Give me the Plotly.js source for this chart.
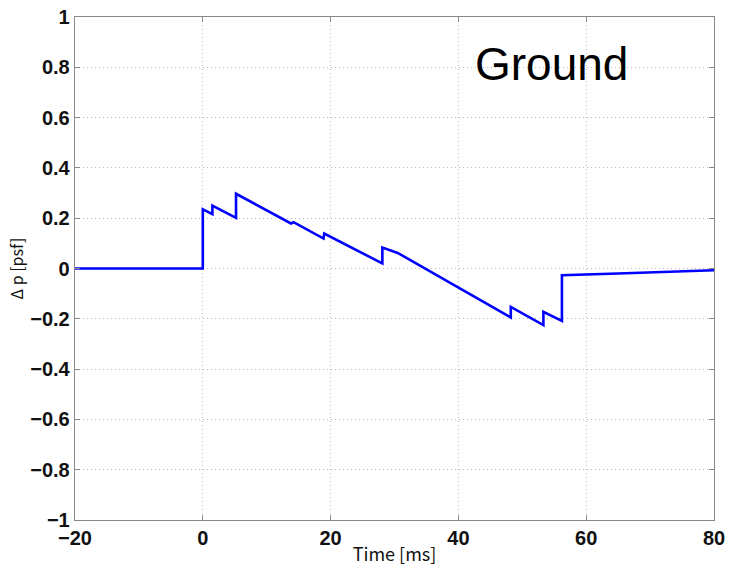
<!DOCTYPE html>
<html>
<head>
<meta charset="utf-8">
<script src="https://cdn.plot.ly/plotly-3.0.1.min.js"></script>
<style>html,body{margin:0;padding:0;background:#fff;}#chart{width:733px;height:571px;}</style>
</head>
<body>
<div id="chart"></div>
<script>
// Time samples [ms] and pressure change [psf]
const timeMs = [-20, 0, 0, 1.5, 1.5, 5.2, 5.2, 13.8, 14.2, 18.9, 19.0, 28.1, 28.1, 30.5, 48.2, 48.2, 53.3, 53.3, 56.2, 56.2, 65, 80];
const deltaP = [0, 0, 0.235, 0.216, 0.25, 0.201, 0.297, 0.179, 0.184, 0.119, 0.139, 0.02, 0.083, 0.062, -0.195, -0.153, -0.225, -0.172, -0.208, -0.027, -0.02, -0.007];
const xTicks = [-20, 0, 20, 40, 60, 80];
const yTicks = [-1, -0.8, -0.6, -0.4, -0.2, 0, 0.2, 0.4, 0.6, 0.8, 1];
const yTickText = ['\u22121', '\u22120.8', '\u22120.6', '\u22120.4', '\u22120.2', '0', '0.2', '0.4', '0.6', '0.8', '1'];
const xTickText = ['\u221220', '0', '20', '40', '60', '80'];
const labelText = 'Ground';

const tickFont = {family: 'Liberation Sans, Arial, sans-serif', size: 20, color: '#111', weight: 700};
const titleFont = {family: 'Noto Sans CJK JP, DejaVu Sans Condensed, sans-serif', size: 18, color: '#111'};
const axisCommon = {
  showgrid: true, gridcolor: '#bdbdbd', griddash: '1px,3px', gridwidth: 1,
  zeroline: false, showline: true, linecolor: '#888', linewidth: 1.3, mirror: 'ticks',
  ticks: 'inside', ticklen: 5, tickcolor: '#888', tickfont: tickFont
};

Plotly.newPlot('chart', [{
  x: timeMs, y: deltaP, type: 'scatter', mode: 'lines',
  line: {color: '#0000ff', width: 2.6}, hoverinfo: 'none'
}], {
  width: 733, height: 571,
  margin: {l: 75, r: 19, t: 17, b: 51},
  paper_bgcolor: '#fff', plot_bgcolor: '#fff',
  showlegend: false,
  xaxis: Object.assign({}, axisCommon, {
    range: [-20, 80], tickvals: xTicks, ticktext: xTickText,
    title: {text: 'Time [ms]', font: titleFont, standoff: 0}
  }),
  yaxis: Object.assign({}, axisCommon, {
    range: [-1, 1], tickvals: yTicks, ticktext: yTickText,
    title: {text: '\u0394 p [psf]', font: {family: titleFont.family, size: 16, color: '#111'}, standoff: 2}
  }),
  annotations: [{
    x: 54.6, y: 0.812, xref: 'x', yref: 'y', text: labelText, showarrow: false,
    font: {family: 'Liberation Sans, Arial, sans-serif', size: 46, color: '#000'}
  }]
}, {staticPlot: true, displayModeBar: false});
</script>
</body>
</html>
